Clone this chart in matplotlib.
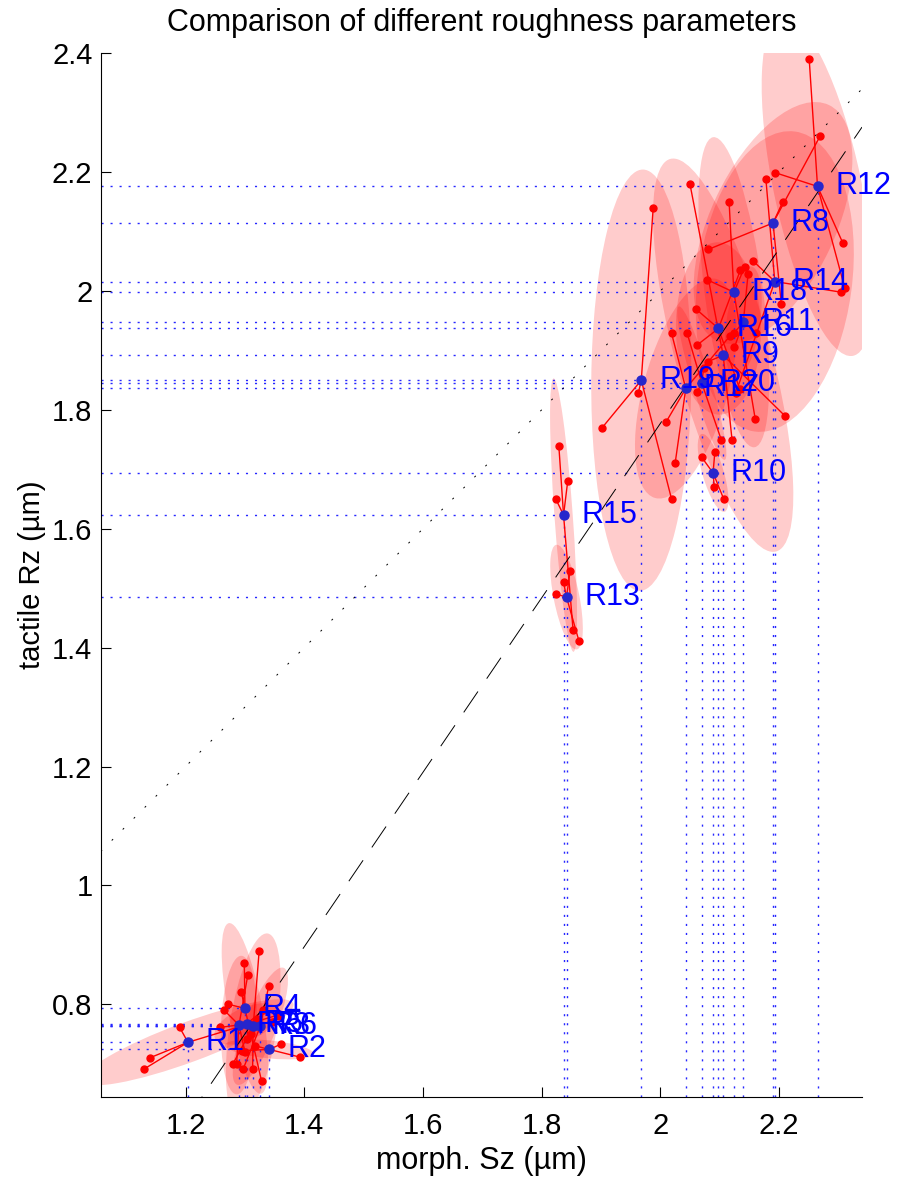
import numpy as np
import matplotlib
matplotlib.use('Agg')
import matplotlib.pyplot as plt
from matplotlib.patches import Ellipse

plt.rcParams['font.family'] = ['Liberation Sans', 'DejaVu Sans']

# sample names and mean values (morph. Sz, tactile Rz)
sample_names = ['R%d' % i for i in range(1, 21)]
mean_sz = [1.204, 1.341, 1.314, 1.300, 1.303, 1.326, 1.290, 2.190, 2.106, 2.089,
           2.140, 2.265, 1.842, 2.193, 1.837, 2.098, 2.043, 2.124, 1.968, 2.070]
mean_rz = [0.736, 0.724, 0.763, 0.793, 0.767, 0.763, 0.765, 2.1145, 1.892, 1.694,
           1.948, 2.176, 1.485, 2.016, 1.623, 1.937, 1.836, 1.998, 1.850, 1.845]

# single measurements of each sample
meas_sz = [
    [1.190, 1.140, 1.130, 1.356],
    [1.361, 1.393, 1.317, 1.295],
    [1.324, 1.313, 1.345, 1.280],
    [1.299, 1.294, 1.272, 1.328],
    [1.331, 1.258, 1.320, 1.303],
    [1.297, 1.340, 1.310, 1.357],
    [1.286, 1.305, 1.265, 1.300],
    [2.269, 2.081, 2.204, 2.206],
    [2.050, 2.080, 2.210, 2.121],
    [2.092, 2.070, 2.091, 2.107],
    [2.148, 2.162, 2.125, 2.125],
    [2.251, 2.194, 2.308, 2.311],
    [1.848, 1.837, 1.825, 1.863],
    [2.178, 2.305, 2.157, 2.127],
    [1.829, 1.844, 1.824, 1.853],
    [2.061, 2.062, 2.135, 2.134],
    [2.019, 2.025, 2.010, 2.118],
    [2.116, 2.142, 2.079, 2.160],
    [1.988, 1.963, 1.902, 2.019],
    [2.062, 2.073, 2.103, 2.045],
]
meas_rz = [
    [0.761, 0.710, 0.691, 0.782],
    [0.733, 0.711, 0.730, 0.722],
    [0.890, 0.691, 0.770, 0.700],
    [0.869, 0.820, 0.800, 0.671],
    [0.790, 0.761, 0.775, 0.742],
    [0.691, 0.830, 0.750, 0.780],
    [0.700, 0.850, 0.790, 0.720],
    [2.260, 2.070, 1.978, 2.149],
    [2.180, 1.881, 1.790, 1.749],
    [1.730, 1.720, 1.670, 1.650],
    [2.029, 1.930, 1.905, 1.930],
    [2.390, 2.199, 2.080, 2.005],
    [1.529, 1.510, 1.490, 1.411],
    [2.188, 1.998, 2.050, 1.828],
    [1.740, 1.680, 1.650, 1.430],
    [1.969, 1.909, 2.035, 1.835],
    [1.929, 1.710, 1.780, 1.925],
    [2.150, 2.040, 2.019, 1.785],
    [2.139, 1.828, 1.770, 1.650],
    [1.830, 1.870, 1.749, 1.930],
]

# regression line tactile Rz = a * Sz + b
fit_slope = 1.467
fit_offset = -1.157

x_lim = (1.057, 2.34)
y_lim = (0.644, 2.4)
ell_scale = 1.7

fig = plt.figure(figsize=(8.97, 11.84), dpi=100)
ax = fig.add_axes([0.1123, 0.0735, 0.8487, 0.8815])
ax.set_xlim(x_lim)
ax.set_ylim(y_lim)

for i, name in enumerate(sample_names):
    xs = np.array(meas_sz[i])
    ys = np.array(meas_rz[i])
    cx, cy = mean_sz[i], mean_rz[i]

    # spread ellipse from covariance
    cov = np.cov(xs, ys)
    vals, vecs = np.linalg.eigh(cov)
    vals = np.clip(vals, 1e-9, None)
    ang = np.degrees(np.arctan2(vecs[1, 1], vecs[0, 1]))
    ell = Ellipse((cx, cy), 2 * ell_scale * np.sqrt(vals[1]), 2 * ell_scale * np.sqrt(vals[0]),
                  angle=ang, facecolor='red', edgecolor='none', alpha=0.2, zorder=1)
    ax.add_patch(ell)

    # projection lines to the axes
    ax.plot([x_lim[0], cx], [cy, cy], color=(0.15, 0.15, 1.0), lw=1.0, dashes=(1.5, 5), zorder=2)
    ax.plot([cx, cx], [y_lim[0], cy], color=(0.15, 0.15, 1.0), lw=1.0, dashes=(1.5, 5), zorder=2)

for i, name in enumerate(sample_names):
    cx, cy = mean_sz[i], mean_rz[i]
    for px, py in zip(meas_sz[i], meas_rz[i]):
        ax.plot([cx, px], [cy, py], color='red', lw=1, zorder=3)
    ax.plot(meas_sz[i], meas_rz[i], 'o', color='red', ms=5, mec='red', zorder=4)

xl = np.array(x_lim)
ax.plot(xl, xl, color='k', lw=0.7, dashes=(2, 14), zorder=3)
ax.plot(xl, fit_slope * xl + fit_offset, color='k', lw=0.7, dashes=(26, 16), zorder=3)

for i, name in enumerate(sample_names):
    cx, cy = mean_sz[i], mean_rz[i]
    ax.plot(cx, cy, 'o', color=(0.15, 0.15, 0.8), ms=6.5, zorder=5)
    ax.text(cx + 0.03, cy, name, color='blue', fontsize=22, ha='left', va='center', zorder=6)

ax.spines['top'].set_visible(False)
ax.spines['right'].set_visible(False)
ax.set_xticks([1.2, 1.4, 1.6, 1.8, 2.0, 2.2])
ax.set_xticklabels(['1.2', '1.4', '1.6', '1.8', '2', '2.2'])
ax.set_yticks([0.8, 1.0, 1.2, 1.4, 1.6, 1.8, 2.0, 2.2, 2.4])
ax.set_yticklabels(['0.8', '1', '1.2', '1.4', '1.6', '1.8', '2', '2.2', '2.4'])
ax.tick_params(direction='in', length=7, width=0.8, labelsize=21)
ax.tick_params(axis='y', pad=6)
ax.tick_params(axis='x', pad=11)

ax.set_title('Comparison of different roughness parameters', fontsize=22, pad=16)
ax.set_xlabel('morph. Sz (µm)', fontsize=22, labelpad=4)
ax.set_ylabel('tactile Rz (µm)', fontsize=21, labelpad=4)

fig.savefig('out.png', dpi=100)
